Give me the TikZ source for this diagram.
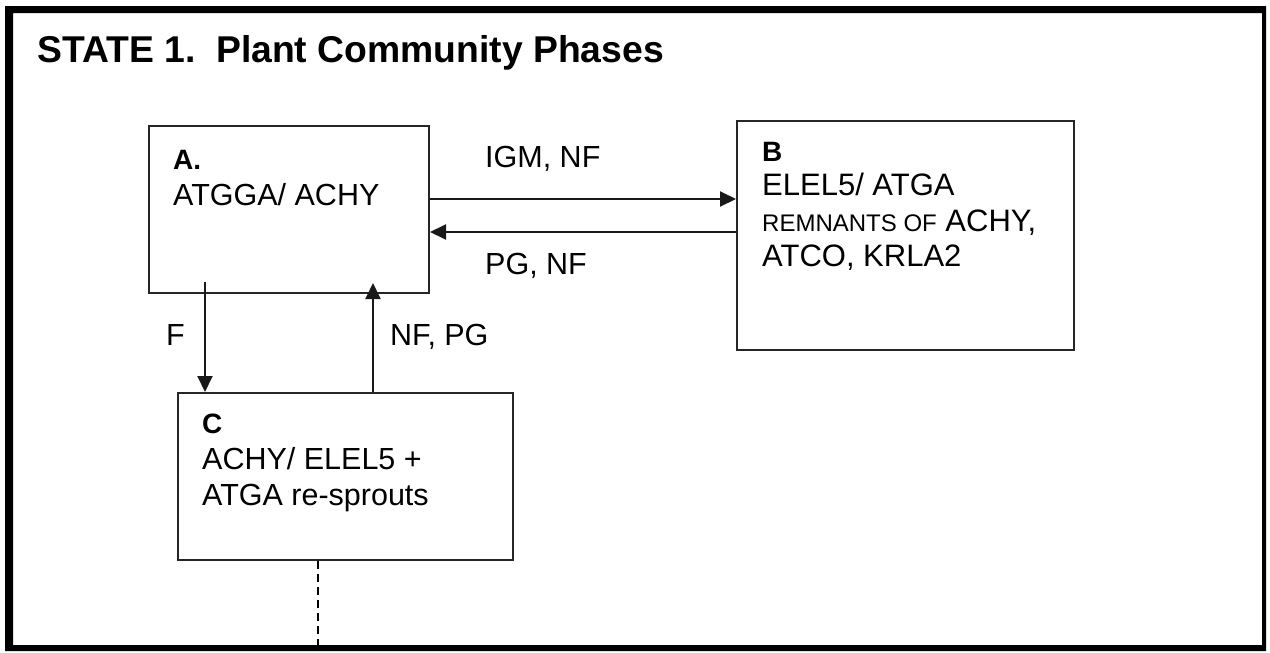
\documentclass[tikz,border=0pt]{standalone}
\usepackage{fontspec}
\setmainfont{Liberation Sans}
\usetikzlibrary{arrows.meta}
\begin{document}
\begin{tikzpicture}[x=1pt,y=-1pt,
  phasebox/.style={draw=black!85, line width=2pt, inner sep=0pt, fill=none},
  txt/.style={anchor=base west, inner sep=0pt, font=\fontsize{30.5}{30.5}\selectfont},
  btxt/.style={anchor=base west, inner sep=0pt, font=\fontsize{31}{31}\selectfont},
  lbl/.style={anchor=base west, inner sep=0pt, font=\fontsize{28}{28}\selectfont\bfseries},
  arr/.style={line width=2pt, draw=black!90, -{Triangle[length=16pt,width=15pt]}}]
\useasboundingbox (0,0) rectangle (1270,653);
\fill[white] (0,0) rectangle (1270,653);
% frame
\fill[black, even odd rule] (5,6) rectangle (1266,651) (13,13) rectangle (1262,645);
% title
\node[anchor=base west, inner sep=0pt, font=\fontsize{37.3}{37.3}\selectfont\bfseries] (title) at (37,62) {STATE 1.\ \ Plant Community Phases};
% boxes
\node[phasebox, minimum width=280pt, minimum height=167pt] (A) at (289,209.5) {};
\node[phasebox, minimum width=337pt, minimum height=229pt] (B) at (905.5,235.5) {};
\node[phasebox, minimum width=335pt, minimum height=167pt] (C) at (345.5,476.5) {};
% box texts
\node[lbl] (Ah) at (173,169) {A.};
\node[txt] (At) at (173,205) {ATGGA/ ACHY};
\node[lbl] (Bh) at (762,161) {B};
\node[btxt] (Bt1) at (762,195) {ELEL5/ ATGA};
\node[btxt] (Bt2) at (762,231) {{\fontsize{24}{24}\selectfont REMNANTS OF} ACHY,};
\node[btxt] (Bt3) at (762,266) {ATCO, KRLA2};
\node[lbl] (Ch) at (202,433) {C};
\node[txt] (Ct1) at (202,469) {ACHY/ ELEL5 +};
\node[txt] (Ct2) at (202,505) {ATGA re-sprouts};
% connector helper coordinates
\coordinate (yigm) at (0,199);
\coordinate (ypg) at (0,232);
\coordinate (xf) at (205,282);
\coordinate (xnf) at (373,283);
\coordinate (xd) at (318,646);
% connectors
\draw[arr] (A.east |- yigm) -- (B.west |- yigm);
\draw[arr] (B.west |- ypg) -- (A.east |- ypg);
\draw[arr] (xf) -- (xf |- C.north);
\draw[arr] (xnf |- C.north) -- (xnf);
\draw[line width=2pt, dash pattern=on 8pt off 5pt] (xd |- C.south) -- (xd);
% connector labels
\node[txt] (l1) at (485,167) {IGM, NF};
\node[txt] (l2) at (485,274) {PG, NF};
\node[txt] (l3) at (166,345) {F};
\node[txt] (l4) at (390,345) {NF, PG};
\end{tikzpicture}
\end{document}
